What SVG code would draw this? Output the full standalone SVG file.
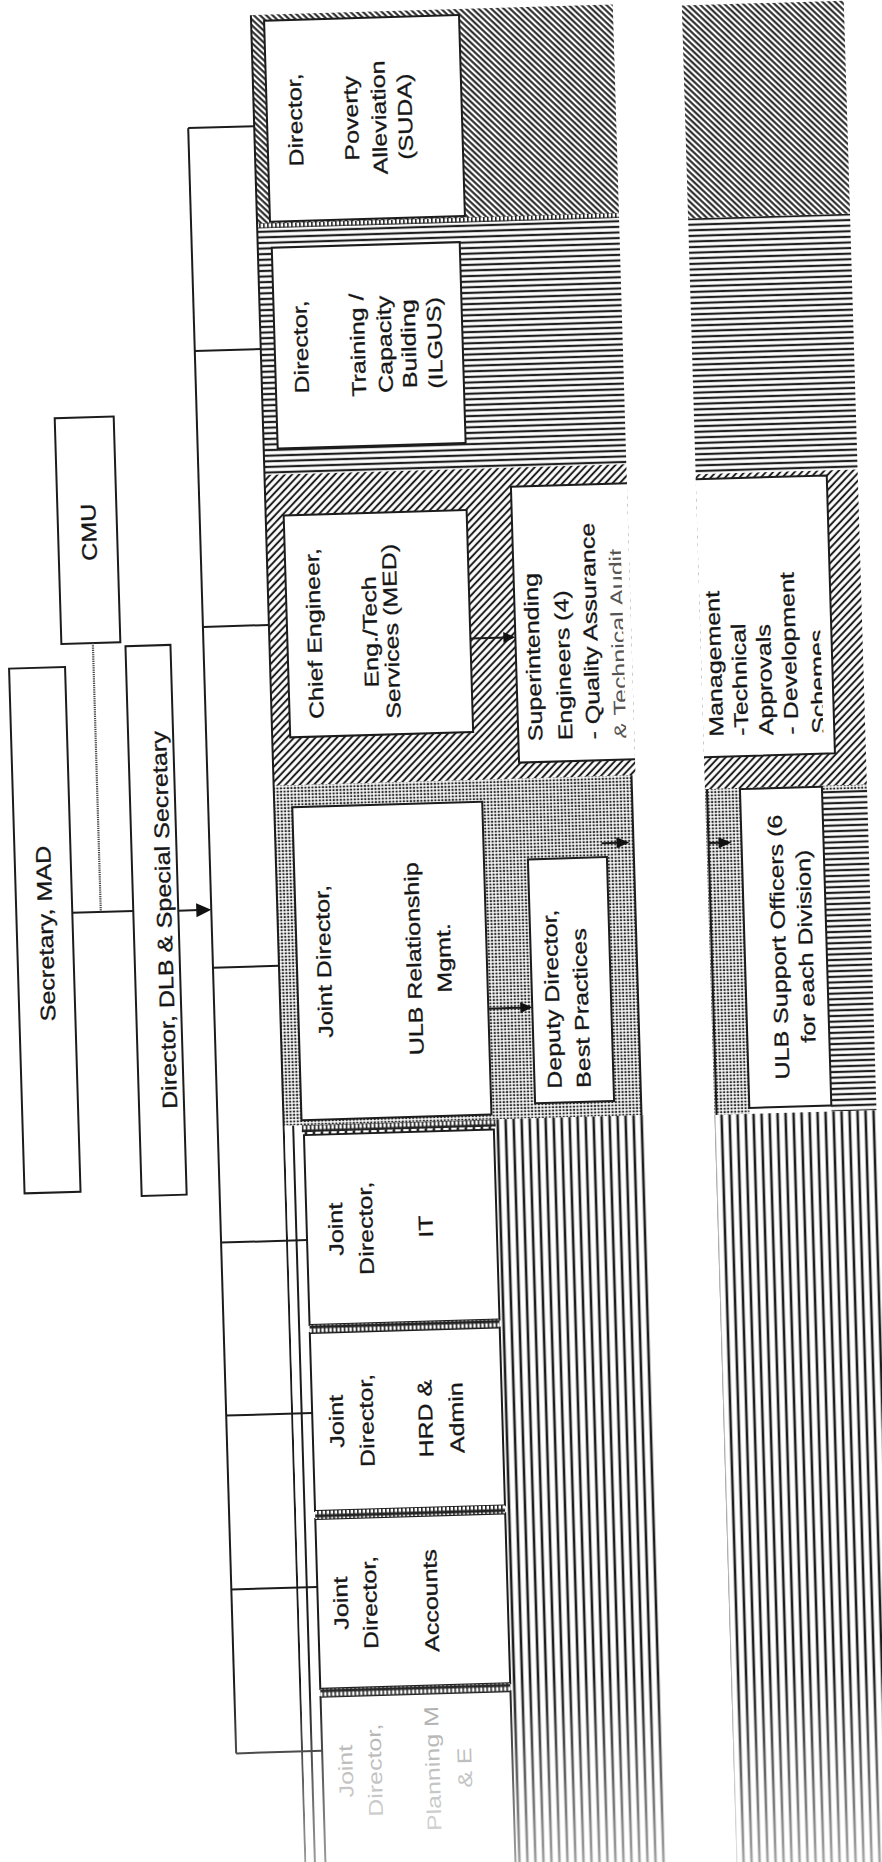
<svg xmlns="http://www.w3.org/2000/svg" width="882" height="1862" viewBox="0 0 882 1862">
<defs>
<style>
.box{fill:#fff;stroke:#1c1c1c;stroke-width:2}
.open{fill:none;stroke:#1c1c1c;stroke-width:2}
.ln{stroke:#1c1c1c;stroke-width:2;fill:none}
.dot{stroke:#444;stroke-width:2.2;stroke-dasharray:1.2 1;fill:none}
.ah{fill:#111}
.t{font-family:"Liberation Sans",Arial,sans-serif;font-size:20px;fill:#161616;stroke:#161616;stroke-width:0.3;text-anchor:middle}
.st{text-anchor:start}
.big{font-size:21px}
.faint{fill:#a9a9a9;stroke:none}
.lite{fill:#555;stroke:none}
</style>
<pattern id="pBack" width="4.3" height="4.3" patternUnits="userSpaceOnUse" patternTransform="rotate(-45)"><rect width="4.3" height="4.3" fill="#fff"/><rect x="1.2" width="2" height="4.3" fill="#1e1e1e"/></pattern>
<pattern id="pFwd" width="5.2" height="5.2" patternUnits="userSpaceOnUse" patternTransform="rotate(45)"><rect width="5.2" height="5.2" fill="#fff"/><rect x="1.6" width="2" height="5.2" fill="#1e1e1e"/></pattern>
<pattern id="pH" width="10" height="5.6" patternUnits="userSpaceOnUse"><rect width="10" height="5.6" fill="#fff"/><rect y="1.7" width="10" height="2.2" fill="#1e1e1e"/></pattern>
<pattern id="pV" width="8" height="10" patternUnits="userSpaceOnUse"><rect width="8" height="10" fill="#fff"/><rect x="2.7" width="2.6" height="10" fill="#1e1e1e"/></pattern>
<pattern id="pDot" width="3.5" height="3.3" patternUnits="userSpaceOnUse"><rect width="3.5" height="3.3" fill="#fff"/><rect x="0.6" y="0.6" width="2.2" height="2" fill="#2a2a2a"/></pattern>
<pattern id="pChk" width="4" height="7" patternUnits="userSpaceOnUse"><rect width="4" height="7" fill="#fff"/><rect width="4" height="1.5" fill="#222"/><rect y="5.5" width="4" height="1.5" fill="#222"/><rect width="1.6" height="7" fill="#222"/></pattern>
<linearGradient id="fade" gradientUnits="userSpaceOnUse" x1="0" y1="1680" x2="0" y2="1870"><stop offset="0" stop-color="#fff" stop-opacity="0"/><stop offset="1" stop-color="#fff" stop-opacity="0.6"/></linearGradient>
<clipPath id="clipSE"><rect x="500" y="480" width="132" height="300"/></clipPath>
<clipPath id="clipMg"><rect x="700" y="480" width="129" height="300"/></clipPath>
</defs>
<rect width="882" height="1862" fill="#fff"/>
<g transform="rotate(-1.69 441 931)">
<g id="bands">
<rect x="278" y="10" width="362" height="211" fill="url(#pBack)"/>
<rect x="278" y="221" width="362" height="249" fill="url(#pH)"/>
<rect x="278" y="470" width="362" height="311" fill="url(#pFwd)"/>
<rect x="278" y="781" width="358" height="340" fill="url(#pDot)"/>
<rect x="278" y="1121" width="362" height="760" fill="url(#pV)"/>
<rect x="278" y="218.5" width="362" height="5" fill="url(#pChk)"/>
<line class="ln" x1="278" y1="10" x2="278" y2="1880"/>
<line class="ln" x1="636" y1="781" x2="636" y2="1121"/>
<rect x="279" y="1121" width="19" height="760" fill="#fff"/>
<line class="ln" x1="287.5" y1="1121" x2="287.5" y2="1880"/>
<rect x="709" y="13" width="162" height="213" fill="url(#pBack)"/>
<rect x="709" y="226" width="162" height="256" fill="url(#pH)"/>
<rect x="709" y="482" width="162" height="315" fill="url(#pFwd)"/>
<rect x="709" y="797" width="35" height="326" fill="url(#pDot)"/>
<rect x="709" y="797" width="162" height="5" fill="url(#pDot)"/>
<rect x="826" y="802" width="45" height="321" fill="url(#pH)"/>
<line class="ln" x1="711" y1="797" x2="711" y2="1123"/>
<rect x="709" y="1123" width="162" height="760" fill="url(#pV)"/>
</g>
<g id="sec">
<rect class="box" x="17" y="656" width="56" height="525"/>
<text class="t big" transform="translate(53 922) rotate(-90) scale(1.2 1)">Secretary, MAD</text>
</g>
<g id="cmu">
<rect class="box" x="70" y="407" width="59" height="226"/>
<text class="t big" transform="translate(108 522) rotate(-90) scale(1.2 1)">CMU</text>
</g>
<g id="dir">
<rect class="box" x="134" y="637" width="45" height="550"/>
<text class="t big" transform="translate(172 912) rotate(-90) scale(1.2 1)">Director, DLB &amp; Special Secretary</text>
</g>
<g id="poverty">
<rect class="box" x="291" y="16" width="195" height="201"/>
<text class="t" transform="translate(326 116) rotate(-90) scale(1.25 1)">Director,</text>
<text class="t" transform="translate(382 116) rotate(-90) scale(1.25 1)">Poverty</text>
<text class="t" transform="translate(410 116) rotate(-90) scale(1.25 1)">Alleviation</text>
<text class="t" transform="translate(436 116) rotate(-90) scale(1.25 1)">(SUDA)</text>
</g>
<g id="training">
<rect class="box" x="292" y="243" width="188" height="201"/>
<text class="t" transform="translate(325 343) rotate(-90) scale(1.25 1)">Director,</text>
<text class="t" transform="translate(382 343) rotate(-90) scale(1.25 1)">Training /</text>
<text class="t" transform="translate(409 343) rotate(-90) scale(1.25 1)">Capacity</text>
<text class="t" transform="translate(433 343) rotate(-90) scale(1.25 1)">Building</text>
<text class="t" transform="translate(459 343) rotate(-90) scale(1.25 1)">(ILGUS)</text>
</g>
<g id="ce">
<rect class="box" x="296" y="511" width="183" height="222"/>
<text class="t" transform="translate(330 630) rotate(-90) scale(1.25 1)">Chief Engineer,</text>
<text class="t" transform="translate(386 630) rotate(-90) scale(1.25 1)">Eng./Tech</text>
<text class="t" transform="translate(407 630) rotate(-90) scale(1.25 1)">Services (MED)</text>
</g>
<g id="se">
<rect x="524" y="489" width="116" height="276" fill="#fff"/>
<path class="open" d="M640 489H524V765H640"/>
<g clip-path="url(#clipSE)">
<text class="t st" transform="translate(548 744) rotate(-90) scale(1.25 1)">Superintending</text>
<text class="t st" transform="translate(578 744) rotate(-90) scale(1.25 1)">Engineers (4)</text>
<text class="t st" transform="translate(606 744) rotate(-90) scale(1.25 1)">- Quality Assurance</text>
<text class="t st lite" transform="translate(634 744) rotate(-90) scale(1.25 1)">&amp; Technical Audit</text>
</g>
</g>
<g id="mgmt">
<rect x="709" y="487" width="131" height="278" fill="#fff"/>
<path class="open" d="M709 487H840V765H709"/>
<g clip-path="url(#clipMg)">
<text class="t st" transform="translate(729 745) rotate(-90) scale(1.25 1)">Management</text>
<text class="t st" transform="translate(754 745) rotate(-90) scale(1.25 1)">-Technical</text>
<text class="t st" transform="translate(779 745) rotate(-90) scale(1.25 1)">Approvals</text>
<text class="t st" transform="translate(804 745) rotate(-90) scale(1.25 1)">- Development</text>
<text class="t st" transform="translate(832 745) rotate(-90) scale(1.25 1)">Schemes</text>
</g>
</g>
<g id="ulb">
<rect class="box" x="296" y="803" width="190" height="313"/>
<text class="t" transform="translate(330 958) rotate(-90) scale(1.25 1)">Joint Director,</text>
<text class="t" transform="translate(420 958) rotate(-90) scale(1.25 1)">ULB Relationship</text>
<text class="t" transform="translate(450 958) rotate(-90) scale(1.25 1)">Mgmt.</text>
</g>
<g id="deputy">
<rect class="box" x="530" y="862" width="79" height="244"/>
<text class="t st" transform="translate(557 1092) rotate(-90) scale(1.25 1)">Deputy Director,</text>
<text class="t st" transform="translate(586 1092) rotate(-90) scale(1.25 1)">Best Practices</text>
</g>
<g id="ulbsupport">
<rect class="box" x="744" y="798" width="82" height="319"/>
<text class="t" transform="translate(785 957) rotate(-90) scale(1.25 1)">ULB Support Officers (6</text>
<text class="t" transform="translate(812 957) rotate(-90) scale(1.25 1)">for each Division)</text>
</g>
<g id="it">
<rect class="box" x="298" y="1131" width="190" height="190"/>
<text class="t" transform="translate(334 1226) rotate(-90) scale(1.25 1)">Joint</text>
<text class="t" transform="translate(364 1226) rotate(-90) scale(1.25 1)">Director,</text>
<text class="t" transform="translate(424 1226) rotate(-90) scale(1.25 1)">IT</text>
</g>
<g id="hrd">
<rect class="box" x="298" y="1329" width="190" height="178"/>
<text class="t" transform="translate(329 1418) rotate(-90) scale(1.25 1)">Joint</text>
<text class="t" transform="translate(359 1418) rotate(-90) scale(1.25 1)">Director,</text>
<text class="t" transform="translate(418 1418) rotate(-90) scale(1.25 1)">HRD &amp;</text>
<text class="t" transform="translate(449 1418) rotate(-90) scale(1.25 1)">Admin</text>
</g>
<g id="accounts">
<rect class="box" x="298" y="1515" width="190" height="170"/>
<text class="t" transform="translate(328 1600) rotate(-90) scale(1.25 1)">Joint</text>
<text class="t" transform="translate(357 1600) rotate(-90) scale(1.25 1)">Director,</text>
<text class="t" transform="translate(418 1600) rotate(-90) scale(1.25 1)">Accounts</text>
</g>
<g id="planning">
<rect class="box" x="298" y="1693" width="190" height="190"/>
<text class="t faint" transform="translate(328 1768) rotate(-90) scale(1.25 1)">Joint</text>
<text class="t faint" transform="translate(357 1768) rotate(-90) scale(1.25 1)">Director,</text>
<text class="t faint" transform="translate(415 1768) rotate(-90) scale(1.25 1)">Planning M</text>
<text class="t faint" transform="translate(447 1768) rotate(-90) scale(1.25 1)">&amp; E</text>
</g>
<g id="separators">
<rect x="296" y="1121" width="194" height="7" fill="url(#pChk)"/>
<rect x="298" y="1321" width="190" height="8" fill="url(#pChk)"/>
<rect x="298" y="1507" width="190" height="8" fill="url(#pChk)"/>
<rect x="298" y="1685" width="190" height="8" fill="url(#pChk)"/>
</g>
<g id="connectors">
<path class="ln" d="M212 121V1747"/>
<path class="ln" d="M212 121H278M212 344H278M212 620H278M212 961H278M212 1236H298M212 1409H298M212 1583H298M212 1747H298"/>
<path class="ln" d="M73 902H134"/>
<path class="dot" d="M101.5 633V902"/>
<path class="ln" d="M179 903H200"/>
<polygon class="ah" points="197,896 212,903 197,910"/>
<path class="ln" d="M479 639.5H515"/>
<polygon class="ah" points="512,634 524,639.5 512,645"/>
<path class="ln" d="M486 1010H520"/>
<polygon class="ah" points="518,1004.5 530,1010 518,1015.5"/>
<path class="ln" d="M604 848H622"/>
<polygon class="ah" points="619,842.5 632,848 619,853.5"/>
<path class="ln" d="M711 851H723"/>
<polygon class="ah" points="721,845.5 734,851 721,856.5"/>
</g>
<rect x="-60" y="1680" width="1000" height="240" fill="url(#fade)"/>
</g>
</svg>
